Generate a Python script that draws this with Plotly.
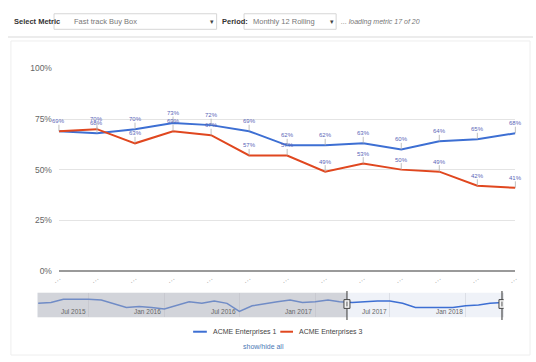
import plotly.graph_objects as go

# ---------------- data ----------------
months = ["Mar 2017", "Apr 2017", "May 2017", "Jun 2017", "Jul 2017", "Aug 2017", "Sep 2017",
          "Oct 2017", "Nov 2017", "Dec 2017", "Jan 2018", "Feb 2018", "Mar 2018"]
tick_labels = ["…"] * len(months)
acme1 = [69, 68, 70, 73, 72, 69, 62, 62, 63, 60, 64, 65, 68]
acme3 = [69, 70, 63, 69, 67, 57, 57, 49, 53, 50, 49, 42, 41]
series_names = ["ACME Enterprises 1", "ACME Enterprises 3"]
y_ticks = [0, 25, 50, 75, 100]
y_tick_labels = ["0%", "25%", "50%", "75%", "100%"]

nav_dates = ["2015-03-01", "2015-04-01", "2015-05-01", "2015-06-01", "2015-07-01", "2015-08-01",
             "2015-09-01", "2015-10-01", "2015-11-01", "2015-12-01", "2016-01-01", "2016-02-01",
             "2016-03-01", "2016-04-01", "2016-05-01", "2016-06-01", "2016-07-01", "2016-08-01",
             "2016-09-01", "2016-10-01", "2016-11-01", "2016-12-01", "2017-01-01", "2017-02-01",
             "2017-03-01", "2017-04-01", "2017-05-01", "2017-06-01", "2017-07-01", "2017-08-01",
             "2017-09-01", "2017-10-01", "2017-11-01", "2017-12-01", "2018-01-01", "2018-02-01",
             "2018-03-01", "2018-04-01"]
nav_values = [67, 68, 72, 72, 72, 71, 66, 62, 63, 62, 60, 65,
              69, 67, 70, 67, 57, 64, 67, 69, 71, 68, 69, 71,
              69, 68, 69, 70, 70, 67, 62, 62, 62, 62, 64, 65,
              67, 68]
nav_tick_vals = ["2015-07-01", "2016-01-01", "2016-07-01", "2017-01-01", "2017-07-01", "2018-01-01"]
nav_tick_text = ["Jul 2015", "Jan 2016", "Jul 2016", "Jan 2017", "Jul 2017", "Jan 2018"]
sel_start, sel_end = "2017-03-19", "2018-03-30"
nav_range = ["2015-02-27", "2018-04-03"]

metric_label = "Fast track Buy Box"
period_label = "Monthly 12 Rolling"
status_text = "... loading metric 17 of 20"

# ---------------- style ----------------
W, H = 536, 362
BLUE = "#3d6fd3"
RED = "#e0471f"
LABEL_C = "#5a66b8"
FONT = "Arial, Liberation Sans, sans-serif"


def px(x):
    return x / W


def py(y):
    return 1 - y / H


fig = go.Figure()

fig.add_trace(go.Scatter(x=months, y=acme1, mode="lines", name=series_names[0],
                         line=dict(color=BLUE, width=2), showlegend=False,
                         xaxis="x", yaxis="y"))
fig.add_trace(go.Scatter(x=months, y=acme3, mode="lines", name=series_names[1],
                         line=dict(color=RED, width=2), showlegend=False,
                         xaxis="x", yaxis="y"))
fig.add_trace(go.Scatter(x=nav_dates, y=nav_values, mode="lines", name="navigator",
                         line=dict(color=BLUE, width=1.5), showlegend=False,
                         xaxis="x2", yaxis="y2", hoverinfo="skip"))

annotations = []
# data labels with small stems (identical overlapping labels drawn once)
seen = set()
for series in (acme1, acme3):
    for m, v in zip(months, series):
        if (m, v) in seen:
            continue
        seen.add((m, v))
        annotations.append(dict(x=m, y=v, xref="x", yref="y", text=f"{v}%",
                                showarrow=True, arrowhead=0, arrowwidth=0.8,
                                arrowcolor="#b0b0b0", ax=0, ay=-10, standoff=0,
                                borderpad=0, font=dict(size=6, color=LABEL_C, family=FONT)))

# navigator date labels (right-aligned just left of each gridline)
for d, t in zip(nav_tick_vals, nav_tick_text):
    annotations.append(dict(x=d, y=py(315.5), xref="x2", yref="paper", text=t, showarrow=False,
                            xanchor="right", yanchor="middle", xshift=-1,
                            font=dict(size=6.5, color="#666", family=FONT)))

# header
annotations += [
    dict(x=px(4), y=py(17), xref="paper", yref="paper", text="<b>Select Metric</b>",
         showarrow=False, xanchor="left", yanchor="middle", font=dict(size=7.5, color="#333", family=FONT)),
    dict(x=px(65), y=py(17), xref="paper", yref="paper", text=metric_label,
         showarrow=False, xanchor="left", yanchor="middle", font=dict(size=7.5, color="#777", family=FONT)),
    dict(x=px(208), y=py(17), xref="paper", yref="paper", text="▾",
         showarrow=False, xanchor="center", yanchor="middle", font=dict(size=7, color="#444", family=FONT)),
    dict(x=px(216), y=py(17), xref="paper", yref="paper", text="<b>Period:</b>",
         showarrow=False, xanchor="left", yanchor="middle", font=dict(size=7.5, color="#333", family=FONT)),
    dict(x=px(248), y=py(17), xref="paper", yref="paper", text=period_label,
         showarrow=False, xanchor="left", yanchor="middle", font=dict(size=7.5, color="#777", family=FONT)),
    dict(x=px(331), y=py(17), xref="paper", yref="paper", text="▾",
         showarrow=False, xanchor="center", yanchor="middle", font=dict(size=7, color="#444", family=FONT)),
    dict(x=px(338), y=py(17), xref="paper", yref="paper", text="<i>" + status_text + "</i>",
         showarrow=False, xanchor="left", yanchor="middle", font=dict(size=7, color="#777", family=FONT)),
]

# legend
annotations += [
    dict(x=px(207), y=py(336), xref="paper", yref="paper", text=series_names[0],
         showarrow=False, xanchor="left", yanchor="middle", font=dict(size=7, color="#444", family=FONT)),
    dict(x=px(295), y=py(336), xref="paper", yref="paper", text=series_names[1],
         showarrow=False, xanchor="left", yanchor="middle", font=dict(size=7, color="#444", family=FONT)),
    dict(x=px(261), y=py(351), xref="paper", yref="paper", text="show/hide all",
         showarrow=False, xanchor="center", yanchor="middle", font=dict(size=7, color="#4a78b5", family=FONT)),
]

shapes = [
    # panel border & header separator
    dict(type="rect", xref="paper", yref="paper", x0=px(3), x1=px(533), y0=py(360), y1=py(37),
         line=dict(color="#eeeeee", width=1), fillcolor="rgba(0,0,0,0)", layer="below"),
    dict(type="line", xref="paper", yref="paper", x0=0, x1=1, y0=py(33), y1=py(33),
         line=dict(color="#e6e6e6", width=1.5)),
    # dropdown boxes
    dict(type="rect", xref="paper", yref="paper", x0=px(47), x1=px(213), y0=py(25), y1=py(9),
         line=dict(color="#d6d6d6", width=1), fillcolor="white", layer="below"),
    dict(type="rect", xref="paper", yref="paper", x0=px(241), x1=px(335), y0=py(25), y1=py(9),
         line=dict(color="#d6d6d6", width=1), fillcolor="white", layer="below"),
    # legend swatches
    dict(type="line", xref="paper", yref="paper", x0=px(189), x1=px(203), y0=py(336), y1=py(336),
         line=dict(color=BLUE, width=2)),
    dict(type="line", xref="paper", yref="paper", x0=px(278), x1=px(291), y0=py(336), y1=py(336),
         line=dict(color=RED, width=2)),
    # navigator background
    dict(type="rect", xref="x2 domain", yref="y2 domain", x0=0, x1=1, y0=0, y1=1,
         line=dict(width=0), fillcolor="#eff2f8", layer="below"),
    # navigator unselected mask
    dict(type="rect", xref="x2", yref="y2 domain", x0=nav_range[0], x1=sel_start, y0=0, y1=1,
         line=dict(width=0), fillcolor="rgba(175,176,182,0.45)", layer="above"),
    dict(type="rect", xref="x2", yref="y2 domain", x0=sel_end, x1=nav_range[1], y0=0, y1=1,
         line=dict(width=0), fillcolor="rgba(175,176,182,0.45)", layer="above"),
]
# navigator handles
for d in (sel_start, sel_end):
    shapes.append(dict(type="line", xref="x2", yref="paper", x0=d, x1=d, y0=py(324), y1=py(294),
                       line=dict(color="#555", width=1.2), layer="above"))
    shapes.append(dict(type="rect", xref="x2", yref="paper", xsizemode="pixel", xanchor=d,
                       x0=-3, x1=3, y0=py(312), y1=py(303),
                       line=dict(color="#444", width=1), fillcolor="#f4f4f4", layer="above"))
    shapes.append(dict(type="line", xref="x2", yref="paper", x0=d, x1=d, y0=py(310), y1=py(305),
                       line=dict(color="#555", width=1), layer="above"))

fig.update_layout(
    width=W, height=H,
    margin=dict(l=0, r=0, t=0, b=0, pad=0),
    paper_bgcolor="white", plot_bgcolor="white",
    font=dict(family=FONT),
    showlegend=False,
    xaxis=dict(domain=[px(52), px(518)], type="category", range=[0, len(months) - 1],
               tickmode="array", tickvals=months, ticktext=tick_labels, tickangle=-35,
               tickfont=dict(size=8, color="#aaa"), showgrid=False, showline=False,
               zeroline=False, ticks="", anchor="y", fixedrange=True),
    yaxis=dict(domain=[py(273.3), py(65.3)], range=[0, 100], tickmode="array",
               tickvals=y_ticks, ticktext=y_tick_labels, tickfont=dict(size=8.5, color="#666"),
               gridcolor="#e4e4e4", gridwidth=1, zeroline=True, zerolinecolor="#9a9a9a",
               zerolinewidth=2, showline=False, ticks="", ticklabelstandoff=6,
               anchor="x", fixedrange=True),
    xaxis2=dict(domain=[px(30), px(506)], type="date", range=nav_range, anchor="y2",
                tickmode="array", tickvals=nav_tick_vals, showticklabels=False,
                showgrid=True, gridcolor="#dcdfe6", gridwidth=1, ticks="",
                showline=False, zeroline=False, fixedrange=True),
    yaxis2=dict(domain=[py(321), py(296)], range=[50, 80], anchor="x2", visible=False,
                fixedrange=True),
    annotations=annotations,
    shapes=shapes,
)

fig.write_html("out.html", config={"displayModeBar": False},
               post_script="document.body.style.margin='0';document.body.style.overflow='hidden';")
